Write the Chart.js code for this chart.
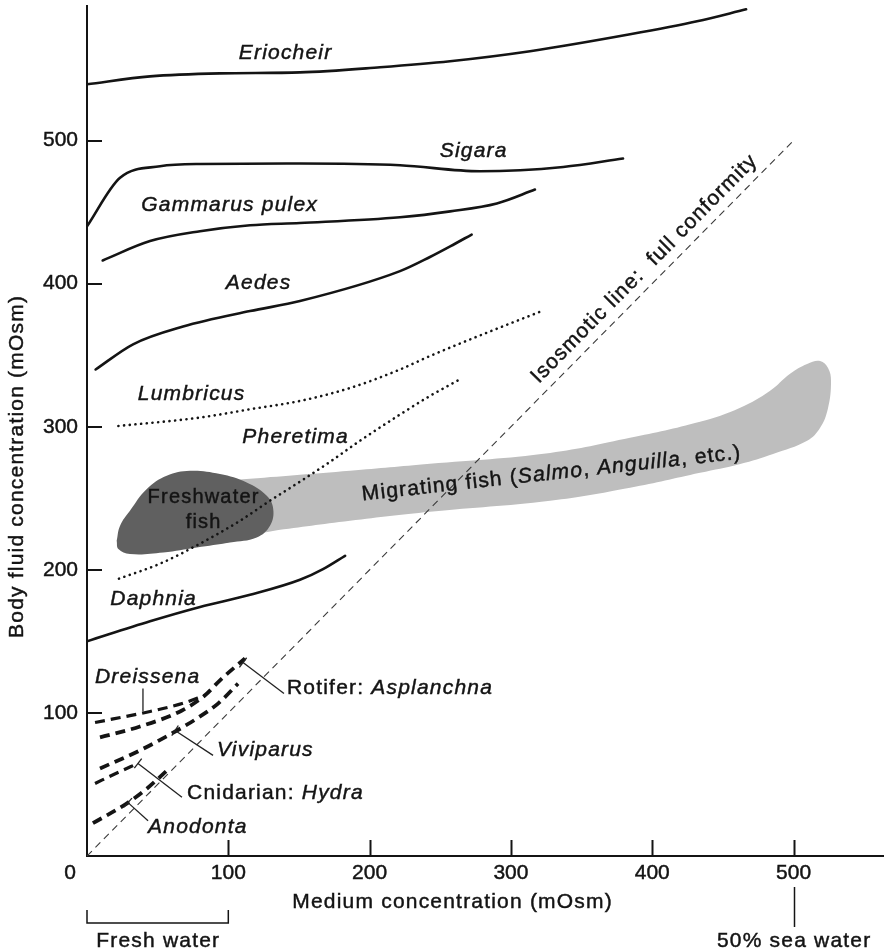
<!DOCTYPE html>
<html>
<head>
<meta charset="utf-8">
<script src="https://cdn.jsdelivr.net/npm/chart.js@4.4.1/dist/chart.umd.min.js"></script>
<style>
  html, body { margin: 0; padding: 0; background: #fff; }
  canvas { display: block; }
</style>
</head>
<body>
<canvas id="chart" width="884" height="952"></canvas>
<script>
// Body fluid vs. medium concentration (mOsm) for aquatic animals.
// Each series: [medium mOsm, body fluid mOsm]

const xTicks = [100, 200, 300, 400, 500];
const yTicks = [100, 200, 300, 400, 500];

// Regulators (solid lines)
const eriocheir = [[0,539.3],[44.6,544.8],[94.1,546.9],[150.7,547.6],[207.4,551.2],[256.9,555.4],[313.5,562.4],[384.3,574.2],[431.7,583.3],[466.4,591.7]];
const sigara = [[0,440],[23.4,474],[51.7,482],[80,483.6],[150.7,483.9],[221.5,482.7],[278,478.5],[337,481.5],[379.3,487.4]];
const gammarus = [[11.1,416.2],[44.6,429.7],[80,436.6],[115.4,440.8],[150.7,442.4],[221.5,446.4],[257,450.5],[290,456],[317,465.7]];
const aedes = [[6.1,340],[32.6,357.6],[68,370],[115.4,380.8],[150.7,387.8],[221.5,408.7],[242.7,418.6],[257,426],[272.2,434.3]];
const daphnia = [[0,150],[44.6,164],[80,174],[115.4,182.5],[150.7,193],[167,200.5],[182.6,209.8]];

// Earthworms (dotted lines)
const lumbricus = [[22.2,300.5],[80,306.4],[115.4,312.2],[150.7,318],[186,327],[221.5,340],[242.7,349.4],[285,366.5],[321.8,380.8]];
const pheretima = [[22.6,193.8],[51.7,204.3],[80,218.3],[108.3,234.3],[129.5,248.3],[150.7,261.6],[172,275.5],[193.2,290.2],[221.5,308.5],[242.7,321.5],[264.7,333.5]];

// Fresh-water species (heavy dashed lines)
const dreissena = [[5.7,93.3],[44.6,101],[67.9,106.7],[83.5,112.3]];
const asplanchna = [[9.2,82.9],[37.5,90.5],[67.2,101.7],[83.5,112.3],[94.1,122.8],[111.8,138.1]];
const viviparus = [[9.2,61.2],[37.5,73.8],[63.7,87.7],[77.8,96.1],[92.7,106.5],[106.9,120.5]];
const hydra = [[5.7,50.7],[20,57.5],[36.1,64.7]];
const anodonta = [[4.2,22.9],[28.3,36.8],[42.5,47.2],[56.6,59.8]];

// Full conformity: body fluid equals medium
const isosmotic = [[0,0],[500,500]];

// Shaded ranges (closed outlines)
const freshwaterFish = [[21.0,220.3],[23.4,230.8],[30.4,241.2],[42.3,256.4],[56.4,265.7],[72.9,269.2],[94.1,266.9],[113.0,261.0],[127.2,251.7],[131.8,242.4],[129.5,230.8],[120.1,222.6],[101.2,219.1],[77.6,215.6],[54.0,212.1],[30.4,211.0],[22.2,214.5],[21.0,220.3]];
const migratingFish = [[80.0,260.8],[115.4,263.6],[186.1,269.2],[242.7,274.1],[327.7,281.7],[384.3,292.2],[433.8,303.4],[462.2,313.2],[483.4,325.1],[497.5,337.0],[509.6,343.9],[518.8,346.0],[524.4,341.1],[526.5,332.0],[524.4,313.1],[518.8,299.2],[509.6,290.1],[485.5,281.0],[462.2,274.0],[433.8,267.8],[384.3,257.3],[327.7,248.2],[242.7,240.5],[186.1,234.2],[131.6,227.2],[80.0,220.3],[80.0,260.8]];

const toXY = arr => arr.map(p => ({ x: p[0], y: p[1] }));

const INK = '#141414';
const FONT = '"Liberation Sans", Arial, Helvetica, sans-serif';

function solid(data) {
  return { data: toXY(data), showLine: true, pointRadius: 0, borderColor: INK, borderWidth: 2.6,
           borderCapStyle: 'round', cubicInterpolationMode: 'monotone', fill: false, order: 0 };
}
function dotted(data) {
  return { data: toXY(data), showLine: true, pointRadius: 0, borderColor: INK, borderWidth: 2.6,
           borderDash: [0.1, 5.6], borderCapStyle: 'round', cubicInterpolationMode: 'monotone', fill: false, order: 0 };
}
function dashed(data, width) {
  return { data: toXY(data), showLine: true, pointRadius: 0, borderColor: INK, borderWidth: width || 3.6,
           borderDash: [10, 6], borderCapStyle: 'butt', cubicInterpolationMode: 'monotone', fill: false, order: 0 };
}
function region(data, color, order) {
  return { data: toXY(data), showLine: true, pointRadius: 0, borderWidth: 0, borderColor: 'rgba(0,0,0,0)',
           backgroundColor: color, fill: 'shape', tension: 0.4, order: order };
}

// Label annotations (data coordinates)
const labels = [
  { parts: [['Eriocheir', true]], at: [140.1, 560.8], align: 'center' },
  { parts: [['Sigara', true]], at: [273.2, 492.5], align: 'center' },
  { parts: [['Gammarus pulex', true]], at: [100.5, 454.7], align: 'center' },
  { parts: [['Aedes', true]], at: [121.0, 400.3], align: 'center' },
  { parts: [['Lumbricus', true]], at: [73.6, 323.0], align: 'center' },
  { parts: [['Pheretima', true]], at: [147.2, 293.0], align: 'center' },
  { parts: [['Daphnia', true]], at: [46.7, 179.8], align: 'center' },
  { parts: [['Dreissena', true]], at: [42.5, 124.7], align: 'center' },
  { parts: [['Rotifer: ', false], ['Asplanchna', true]], at: [141.5, 117.0], align: 'left' },
  { parts: [['Viviparus', true]], at: [92.0, 73.8], align: 'left' },
  { parts: [['Cnidarian: ', false], ['Hydra', true]], at: [70.8, 43.8], align: 'left' },
  { parts: [['Anodonta', true]], at: [43.2, 20.1], align: 'left' },
  { parts: [['Freshwater', false]], at: [82.1, 250.3], align: 'center', size: 20 },
  { parts: [['fish', false]], at: [82.1, 232.8], align: 'center', size: 20 }
];

// Leader lines from curve to its label: [from, to, crossbar]
const leaders = [
  [[110.4,135.2],[139.4,113.5], true],
  [[62.3,87.7],[89.2,70.3], true],
  [[36.1,64.7],[67.2,41.0], true],
  [[29.0,37.3],[43.2,24.7], true],
  [[39.6,117.0],[39.6,101.0], false]
];

function fontOf(italic, size) {
  return (italic ? 'italic ' : '') + size + 'px ' + FONT;
}

function drawParts(ctx, parts, x, y, align, size, spacing) {
  const sp = spacing === undefined ? 1.2 : spacing;
  ctx.save();
  try { ctx.letterSpacing = sp + 'px'; } catch (e) {}
  const widths = parts.map(p => { ctx.font = fontOf(p[1], size); return ctx.measureText(p[0]).width; });
  const total = widths.reduce((a, b) => a + b, 0) - sp;
  let cx = align === 'center' ? x - total / 2 : (align === 'right' ? x - total : x);
  ctx.textAlign = 'left';
  ctx.textBaseline = 'middle';
  ctx.fillStyle = INK;
  ctx.strokeStyle = INK;
  ctx.lineWidth = 0.45;
  parts.forEach((p, i) => {
    ctx.font = fontOf(p[1], size);
    ctx.fillText(p[0], cx, y);
    ctx.strokeText(p[0], cx, y);
    cx += widths[i];
  });
  ctx.restore();
}

const decorations = {
  id: 'decorations',
  afterDatasetsDraw(chart) {
    const ctx = chart.ctx;
    const xs = chart.scales.x, ys = chart.scales.y;
    const area = chart.chartArea;
    const px = v => xs.getPixelForValue(v);
    const py = v => ys.getPixelForValue(v);

    // inward tick marks and tick labels
    ctx.save();
    ctx.strokeStyle = INK;
    ctx.lineWidth = 2;
    xTicks.forEach(v => {
      const x = Math.round(px(v)) + 0.5;
      ctx.beginPath(); ctx.moveTo(x, area.bottom); ctx.lineTo(x, area.bottom - 16); ctx.stroke();
    });
    yTicks.forEach(v => {
      const y = Math.round(py(v));
      ctx.beginPath(); ctx.moveTo(area.left, y); ctx.lineTo(area.left + 15, y); ctx.stroke();
    });
    ctx.restore();
    xTicks.forEach(v => drawParts(ctx, [[String(v), false]], px(v), area.bottom + 17, 'center', 21, 0));
    yTicks.forEach(v => drawParts(ctx, [[String(v), false]], area.left - 9, py(v), 'right', 21, 0));
    drawParts(ctx, [['0', false]], area.left - 17, area.bottom + 17, 'center', 21, 0);

    // leader lines
    ctx.save();
    ctx.strokeStyle = '#222';
    ctx.lineWidth = 1.3;
    leaders.forEach(([a, b, bar]) => {
      const x1 = px(a[0]), y1 = py(a[1]), x2 = px(b[0]), y2 = py(b[1]);
      ctx.beginPath(); ctx.moveTo(x1, y1); ctx.lineTo(x2, y2); ctx.stroke();
      if (bar) {
        const len = Math.hypot(x2 - x1, y2 - y1);
        const nx = -(y2 - y1) / len * 6, ny = (x2 - x1) / len * 6;
        ctx.beginPath(); ctx.moveTo(x1 - nx, y1 - ny); ctx.lineTo(x1 + nx, y1 + ny); ctx.stroke();
      }
    });
    ctx.restore();

    // species labels
    labels.forEach(l => drawParts(ctx, l.parts, px(l.at[0]), py(l.at[1]), l.align, l.size || 21));

    // migrating fish label along the band
    ctx.save();
    ctx.translate(px(328.4), py(267.1));
    ctx.rotate(-6.3 * Math.PI / 180);
    drawParts(ctx, [['Migrating fish (', false], ['Salmo', true], [', ', false], ['Anguilla', true], [', etc.)', false]], 0, 0, 'center', 21);
    ctx.restore();

    // isosmotic label, parallel to the y = x line
    ctx.save();
    const ang = Math.atan2(py(500) - py(0), px(500) - px(0));
    ctx.translate(px(394.2), py(410.1));
    ctx.rotate(ang);
    drawParts(ctx, [['Isosmotic line:  full conformity', false]], 0, 0, 'center', 21);
    ctx.restore();

    // axis titles
    drawParts(ctx, [['Medium concentration (mOsm)', false]], area.left + 365, area.bottom + 46, 'center', 21);
    ctx.save();
    ctx.translate(17, 467);
    ctx.rotate(-Math.PI / 2);
    drawParts(ctx, [['Body fluid concentration (mOsm)', false]], 0, 0, 'center', 21);
    ctx.restore();

    // fresh water bracket
    ctx.save();
    ctx.strokeStyle = INK;
    ctx.lineWidth = 1.5;
    const b0 = px(0), b1 = px(100), by = area.bottom + 67;
    ctx.beginPath();
    ctx.moveTo(b0, by - 13); ctx.lineTo(b0, by); ctx.lineTo(b1, by); ctx.lineTo(b1, by - 13);
    ctx.stroke();
    // 50% sea water marker
    const sx = Math.round(px(500)) + 0.5;
    ctx.beginPath(); ctx.moveTo(sx, area.bottom + 31); ctx.lineTo(sx, area.bottom + 71); ctx.stroke();
    ctx.restore();
    drawParts(ctx, [['Fresh water', false]], (b0 + b1) / 2, area.bottom + 85, 'center', 21);
    drawParts(ctx, [['50% sea water', false]], px(500), area.bottom + 85, 'center', 21);
  }
};

new Chart(document.getElementById('chart'), {
  type: 'scatter',
  data: {
    datasets: [
      region(migratingFish, 'rgb(190,190,190)', 10),
      region(freshwaterFish, 'rgb(96,96,96)', 9),
      solid(eriocheir), solid(sigara), solid(gammarus), solid(aedes), solid(daphnia),
      dotted(lumbricus), dotted(pheretima),
      dashed(dreissena, 3.2), dashed(asplanchna, 3.8), dashed(viviparus, 3.8), dashed(hydra, 3.2), dashed(anodonta, 3.8),
      { data: toXY(isosmotic), showLine: true, pointRadius: 0, borderColor: '#3a3a3a', borderWidth: 1.1,
        borderDash: [7, 5], fill: false, order: 0 }
    ]
  },
  options: {
    responsive: false,
    devicePixelRatio: 1,
    animation: false,
    layout: { padding: { left: 0, top: 6, right: 0, bottom: 0 } },
    plugins: { legend: { display: false }, tooltip: { enabled: false } },
    scales: {
      x: {
        type: 'linear', min: 0, max: 564,
        grid: { display: false, drawTicks: false },
        border: { display: true, color: INK, width: 2 },
        ticks: { display: false, stepSize: 100 },
        afterFit: s => { s.height = 96; }
      },
      y: {
        type: 'linear', min: 0, max: 594,
        grid: { display: false, drawTicks: false },
        border: { display: true, color: INK, width: 2 },
        ticks: { display: false, stepSize: 100 },
        afterFit: s => { s.width = 87; }
      }
    }
  },
  plugins: [decorations]
});
</script>
</body>
</html>
